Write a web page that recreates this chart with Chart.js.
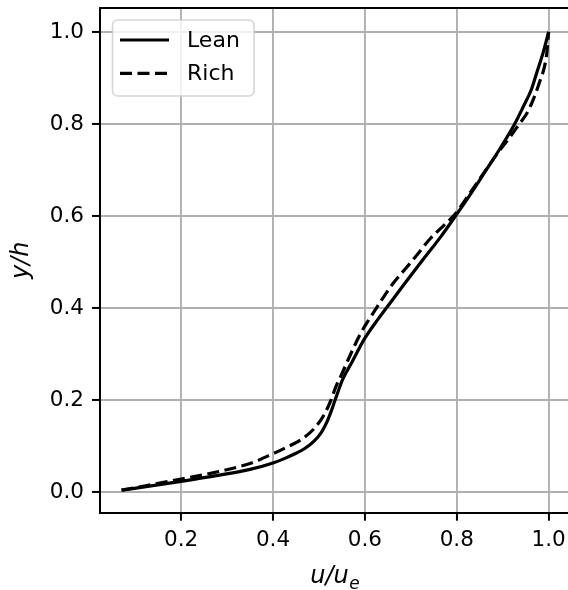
<!DOCTYPE html>
<html>
<head>
<meta charset="utf-8">
<script src="https://cdn.jsdelivr.net/npm/chart.js@4"></script>
<style>
  html, body { margin: 0; padding: 0; overflow: hidden; background: #fff; }
  #wrap { width: 568px; height: 590px; overflow: hidden; }
</style>
</head>
<body>
<div id="wrap"><canvas id="profileChart" width="572" height="590"></canvas></div>
<script>
// Velocity profiles, u/u_e against y/h
const leanU = [0.071, 0.12, 0.2, 0.28, 0.35, 0.4, 0.426, 0.45, 0.47, 0.49, 0.505, 0.517, 0.527, 0.535, 0.551, 0.573, 0.6, 0.63, 0.66, 0.69, 0.73, 0.765, 0.797, 0.83, 0.862, 0.895, 0.926, 0.945, 0.962, 0.974, 0.988, 1.0];
const leanY = [0.005, 0.012, 0.024, 0.037, 0.05, 0.064, 0.074, 0.085, 0.096, 0.112, 0.13, 0.152, 0.177, 0.2, 0.244, 0.285, 0.335, 0.378, 0.418, 0.458, 0.51, 0.555, 0.6, 0.648, 0.697, 0.748, 0.8, 0.838, 0.874, 0.911, 0.955, 1.0];

const richU = [0.07, 0.12, 0.2, 0.28, 0.35, 0.4, 0.417, 0.44, 0.46, 0.49, 0.511, 0.526, 0.537, 0.547, 0.56, 0.573, 0.591, 0.612, 0.634, 0.66, 0.692, 0.712, 0.743, 0.77, 0.797, 0.83, 0.862, 0.895, 0.916, 0.936, 0.953, 0.968, 0.982, 0.991, 0.996, 1.0];
const richY = [0.005, 0.014, 0.029, 0.045, 0.063, 0.084, 0.092, 0.103, 0.114, 0.139, 0.168, 0.2, 0.23, 0.251, 0.28, 0.309, 0.346, 0.38, 0.414, 0.452, 0.49, 0.514, 0.552, 0.578, 0.605, 0.652, 0.698, 0.745, 0.772, 0.8, 0.824, 0.857, 0.896, 0.925, 0.954, 1.0];

const xTicks = [0.2, 0.4, 0.6, 0.8, 1.0];
const yTicks = [0.0, 0.2, 0.4, 0.6, 0.8, 1.0];

const toPoints = (xs, ys) => xs.map((x, i) => ({ x: x, y: ys[i] }));

Chart.defaults.font.family = '"DejaVu Sans", sans-serif';
Chart.defaults.font.size = 21.5;
Chart.defaults.color = '#000';

// Top spine, x label with subscript, and the legend box
const decorations = {
    id: 'decorations',
    afterDraw(chart) {
        const ctx = chart.ctx;
        const area = chart.chartArea;

        ctx.save();
        ctx.strokeStyle = '#000';
        ctx.lineWidth = 2;
        ctx.beginPath();
        ctx.moveTo(area.left - 1, area.top);
        ctx.lineTo(chart.width, area.top);
        ctx.stroke();

        // x axis label u/u_e
        const mainFont = 'italic 24px "DejaVu Sans"';
        const subFont = 'italic 17px "DejaVu Sans"';
        ctx.font = mainFont;
        const wMain = ctx.measureText('u/u').width;
        ctx.font = subFont;
        const wSub = ctx.measureText('e').width;
        const cx = (area.left + area.right) / 2;
        const gap = 0.5;
        let x0 = cx - (wMain + wSub + gap) / 2;
        ctx.fillStyle = '#000';
        ctx.textBaseline = 'alphabetic';
        ctx.textAlign = 'left';
        ctx.font = mainFont;
        ctx.fillText('u/u', x0, area.bottom + 70.5);
        ctx.font = subFont;
        ctx.fillText('e', x0 + wMain + gap, area.bottom + 76.5);

        // legend
        const bx = area.left + 12.5, by = area.top + 12, bw = 141.5, bh = 76;
        ctx.beginPath();
        ctx.roundRect(bx, by, bw, bh, 5);
        ctx.fillStyle = 'rgba(255,255,255,0.8)';
        ctx.fill();
        ctx.strokeStyle = 'rgba(204,204,204,0.8)';
        ctx.lineWidth = 1.6;
        ctx.stroke();

        ctx.font = '22px "DejaVu Sans"';
        ctx.textBaseline = 'middle';
        chart.data.datasets.forEach((ds, i) => {
            const ly = by + 20 + i * 33.3;
            ctx.beginPath();
            ctx.setLineDash(ds.borderDash || []);
            ctx.lineWidth = ds.borderWidth;
            ctx.strokeStyle = ds.borderColor;
            ctx.moveTo(bx + 7.5, ly);
            ctx.lineTo(bx + 56.5, ly);
            ctx.stroke();
            ctx.setLineDash([]);
            ctx.fillStyle = '#000';
            ctx.fillText(ds.label, bx + 74.5, ly + 1);
        });
        ctx.restore();
    }
};

new Chart(document.getElementById('profileChart'), {
    type: 'scatter',
    data: {
        datasets: [
            {
                label: 'Lean',
                data: toPoints(leanU, leanY),
                showLine: true,
                borderColor: '#000',
                borderWidth: 3.2,
                pointRadius: 0,
                cubicInterpolationMode: 'monotone'
            },
            {
                label: 'Rich',
                data: toPoints(richU, richY),
                showLine: true,
                borderColor: '#000',
                borderWidth: 3.2,
                borderDash: [12, 5.5],
                pointRadius: 0,
                cubicInterpolationMode: 'monotone'
            }
        ]
    },
    options: {
        responsive: false,
        animation: false,
        layout: { padding: { top: 8, right: 2, left: 0, bottom: 0 } },
        plugins: {
            legend: { display: false },
            tooltip: { enabled: false }
        },
        scales: {
            x: {
                type: 'linear',
                min: 0.0235,
                max: 1.0465,
                afterFit(scale) {
                    scale.height = 77.3;
                    scale.paddingLeft = 0;
                    scale.paddingRight = 0;
                },
                afterBuildTicks(scale) {
                    scale.ticks = xTicks.map(v => ({ value: v }));
                },
                ticks: {
                    autoSkip: false,
                    maxRotation: 0,
                    padding: 7,
                    callback: v => v.toFixed(1)
                },
                grid: {
                    color: '#b0b0b0',
                    lineWidth: 1.9,
                    tickLength: 8,
                    tickColor: '#000',
                    tickWidth: 2
                },
                border: { color: '#000', width: 2 }
            },
            y: {
                type: 'linear',
                min: -0.044,
                max: 1.052,
                afterFit(scale) {
                    scale.width = 100;
                    scale.paddingTop = 0;
                    scale.paddingBottom = 0;
                },
                afterBuildTicks(scale) {
                    scale.ticks = yTicks.map(v => ({ value: v }));
                },
                ticks: {
                    padding: 8,
                    callback: v => v.toFixed(1)
                },
                grid: {
                    color: '#b0b0b0',
                    lineWidth: 1.9,
                    tickLength: 8,
                    tickColor: '#000',
                    tickWidth: 2
                },
                border: { color: '#000', width: 2 },
                title: {
                    display: true,
                    text: 'y/h',
                    font: { size: 24, style: 'italic' },
                    padding: { top: 7, bottom: 0 }
                }
            }
        }
    },
    plugins: [decorations]
});
</script>
</body>
</html>
